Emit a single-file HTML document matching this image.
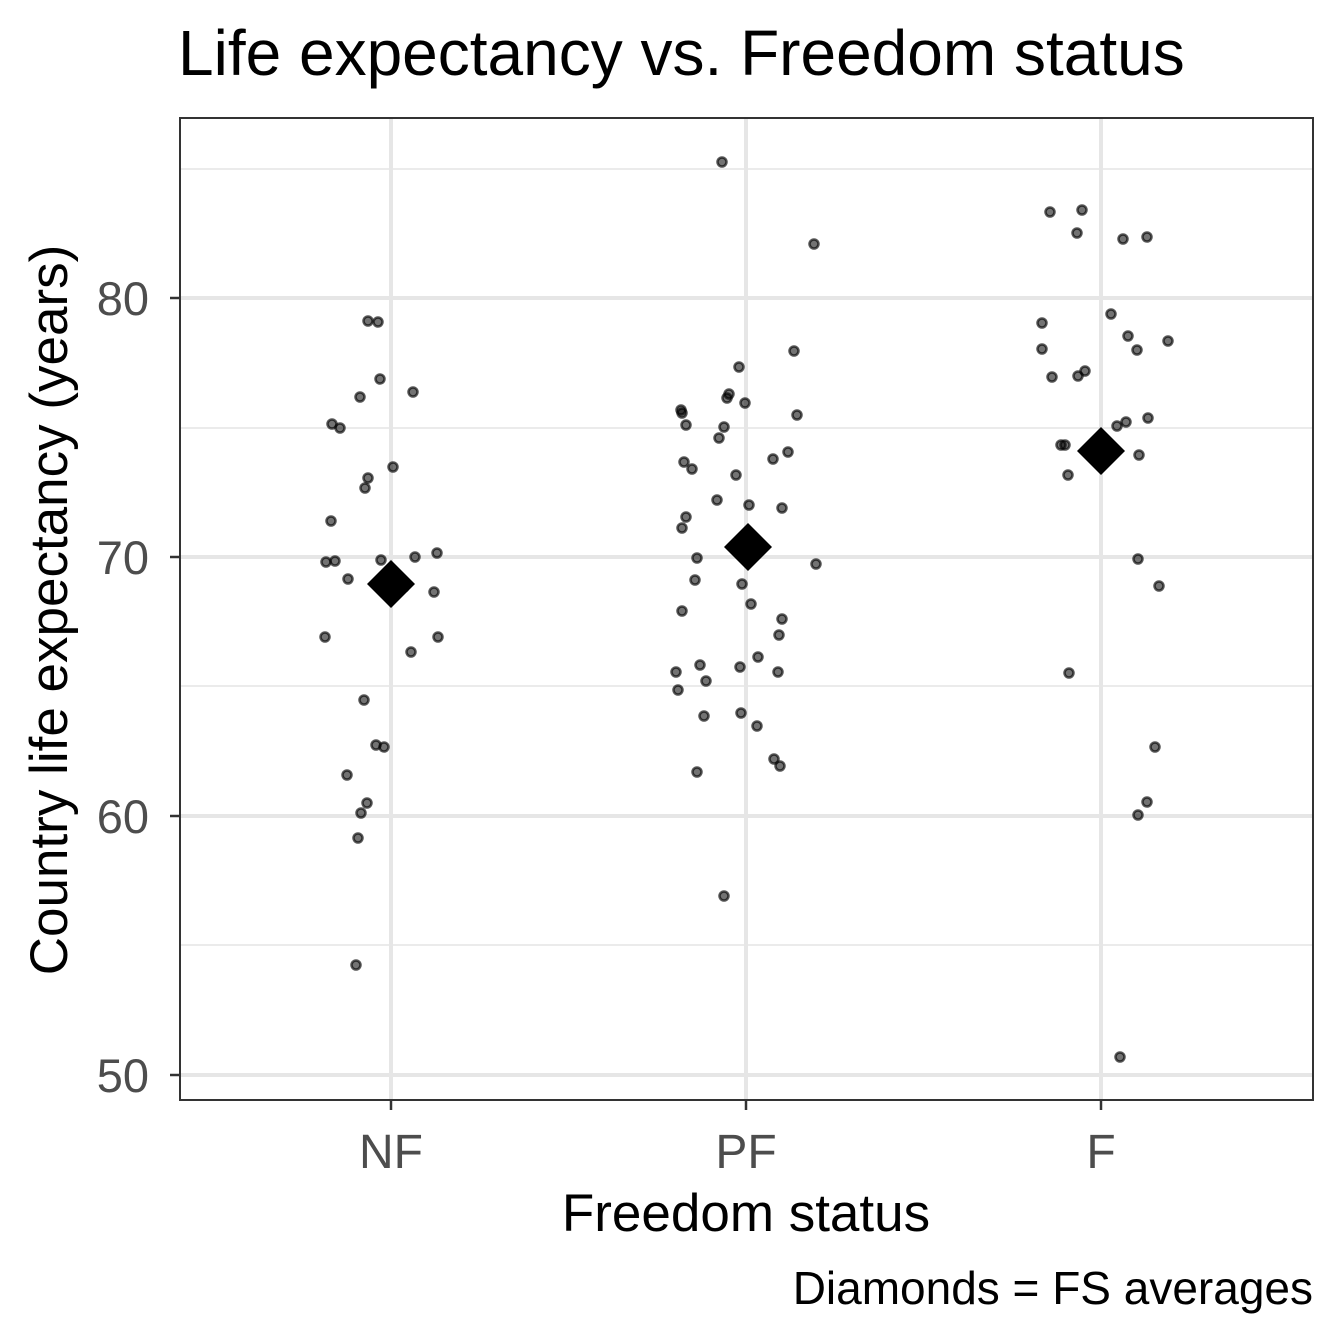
<!DOCTYPE html>
<html><head><style>body{margin:0;background:#fff}svg{display:block}</style></head><body>
<svg width="1344" height="1344" xmlns="http://www.w3.org/2000/svg" font-family="Liberation Sans, sans-serif">
<rect width="1344" height="1344" fill="#fff"/>
<g stroke="#ebebeb" stroke-width="2">
<line x1="180" x2="1313" y1="169" y2="169"/><line x1="180" x2="1313" y1="428" y2="428"/>
<line x1="180" x2="1313" y1="686" y2="686"/><line x1="180" x2="1313" y1="945" y2="945"/>
</g>
<g stroke="#e6e6e6" stroke-width="4">
<line x1="180" x2="1313" y1="298" y2="298"/><line x1="180" x2="1313" y1="557" y2="557"/>
<line x1="180" x2="1313" y1="816" y2="816"/><line x1="180" x2="1313" y1="1075" y2="1075"/>
<line y1="118" y2="1100" x1="391" x2="391"/><line y1="118" y2="1100" x1="746" x2="746"/><line y1="118" y2="1100" x1="1101" x2="1101"/>
</g>
<g fill="#000" fill-opacity="0.55" stroke="#000" stroke-opacity="0.65" stroke-width="2.5">
<circle cx="368" cy="321" r="4.5"/><circle cx="378" cy="322" r="4.5"/><circle cx="380" cy="379" r="4.5"/><circle cx="360" cy="397" r="4.5"/><circle cx="413" cy="392" r="4.5"/><circle cx="332" cy="424" r="4.5"/><circle cx="340" cy="428" r="4.5"/><circle cx="368" cy="478" r="4.5"/><circle cx="365" cy="488" r="4.5"/><circle cx="393" cy="467" r="4.5"/><circle cx="331" cy="521" r="4.5"/><circle cx="326" cy="562" r="4.5"/><circle cx="335" cy="561" r="4.5"/><circle cx="348" cy="579" r="4.5"/><circle cx="381" cy="560" r="4.5"/><circle cx="415" cy="557" r="4.5"/><circle cx="437" cy="553" r="4.5"/><circle cx="404" cy="587" r="4.5"/><circle cx="434" cy="592" r="4.5"/><circle cx="325" cy="637" r="4.5"/><circle cx="438" cy="637" r="4.5"/><circle cx="411" cy="652" r="4.5"/><circle cx="364" cy="700" r="4.5"/><circle cx="376" cy="745" r="4.5"/><circle cx="384" cy="747" r="4.5"/><circle cx="347" cy="775" r="4.5"/><circle cx="367" cy="803" r="4.5"/><circle cx="361" cy="813" r="4.5"/><circle cx="358" cy="838" r="4.5"/><circle cx="356" cy="965" r="4.5"/>
<circle cx="722" cy="162" r="4.5"/><circle cx="814" cy="244" r="4.5"/><circle cx="739" cy="367" r="4.5"/><circle cx="794" cy="351" r="4.5"/><circle cx="729" cy="394" r="4.5"/><circle cx="727" cy="398" r="4.5"/><circle cx="745" cy="403" r="4.5"/><circle cx="681" cy="410" r="4.5"/><circle cx="682" cy="413" r="4.5"/><circle cx="686" cy="425" r="4.5"/><circle cx="724" cy="427" r="4.5"/><circle cx="719" cy="438" r="4.5"/><circle cx="797" cy="415" r="4.5"/><circle cx="788" cy="452" r="4.5"/><circle cx="773" cy="459" r="4.5"/><circle cx="684" cy="462" r="4.5"/><circle cx="692" cy="469" r="4.5"/><circle cx="736" cy="475" r="4.5"/><circle cx="717" cy="500" r="4.5"/><circle cx="749" cy="505" r="4.5"/><circle cx="782" cy="508" r="4.5"/><circle cx="686" cy="517" r="4.5"/><circle cx="682" cy="528" r="4.5"/><circle cx="697" cy="558" r="4.5"/><circle cx="816" cy="564" r="4.5"/><circle cx="695" cy="580" r="4.5"/><circle cx="742" cy="584" r="4.5"/><circle cx="751" cy="604" r="4.5"/><circle cx="782" cy="619" r="4.5"/><circle cx="779" cy="635" r="4.5"/><circle cx="758" cy="657" r="4.5"/><circle cx="676" cy="672" r="4.5"/><circle cx="700" cy="665" r="4.5"/><circle cx="740" cy="667" r="4.5"/><circle cx="778" cy="672" r="4.5"/><circle cx="706" cy="681" r="4.5"/><circle cx="678" cy="690" r="4.5"/><circle cx="741" cy="713" r="4.5"/><circle cx="704" cy="716" r="4.5"/><circle cx="757" cy="726" r="4.5"/><circle cx="774" cy="759" r="4.5"/><circle cx="780" cy="766" r="4.5"/><circle cx="697" cy="772" r="4.5"/><circle cx="724" cy="896" r="4.5"/><circle cx="682" cy="611" r="4.5"/>
<circle cx="1050" cy="212" r="4.5"/><circle cx="1082" cy="210" r="4.5"/><circle cx="1077" cy="233" r="4.5"/><circle cx="1123" cy="239" r="4.5"/><circle cx="1147" cy="237" r="4.5"/><circle cx="1042" cy="323" r="4.5"/><circle cx="1111" cy="314" r="4.5"/><circle cx="1128" cy="336" r="4.5"/><circle cx="1042" cy="349" r="4.5"/><circle cx="1168" cy="341" r="4.5"/><circle cx="1137" cy="350" r="4.5"/><circle cx="1052" cy="377" r="4.5"/><circle cx="1085" cy="371" r="4.5"/><circle cx="1078" cy="376" r="4.5"/><circle cx="1061" cy="445" r="4.5"/><circle cx="1065" cy="445" r="4.5"/><circle cx="1117" cy="426" r="4.5"/><circle cx="1126" cy="422" r="4.5"/><circle cx="1148" cy="418" r="4.5"/><circle cx="1068" cy="475" r="4.5"/><circle cx="1139" cy="455" r="4.5"/><circle cx="1138" cy="559" r="4.5"/><circle cx="1159" cy="586" r="4.5"/><circle cx="1069" cy="673" r="4.5"/><circle cx="1155" cy="747" r="4.5"/><circle cx="1147" cy="802" r="4.5"/><circle cx="1138" cy="815" r="4.5"/><circle cx="1120" cy="1057" r="4.5"/>
</g>
<g fill="#000">
<polygon points="391,560 415,584 391,608 367,584"/>
<polygon points="748,523 772,547 748,571 724,547"/>
<polygon points="1101,427 1125,451 1101,475 1077,451"/>
</g>
<rect x="180" y="118" width="1133" height="982" fill="none" stroke="#333" stroke-width="2"/>
<g stroke="#333" stroke-width="2.5">
<line x1="170" x2="180" y1="298" y2="298"/><line x1="170" x2="180" y1="557" y2="557"/><line x1="170" x2="180" y1="816" y2="816"/><line x1="170" x2="180" y1="1075" y2="1075"/>
<line y1="1100" y2="1110" x1="391" x2="391"/><line y1="1100" y2="1110" x1="746" x2="746"/><line y1="1100" y2="1110" x1="1101" x2="1101"/>
</g>
<g fill="#4d4d4d" font-size="47" text-anchor="end">
<text x="149" y="315">80</text><text x="149" y="574">70</text><text x="149" y="833">60</text><text x="149" y="1092">50</text>
</g>
<g fill="#4d4d4d" font-size="48" text-anchor="middle">
<text x="391" y="1168">NF</text><text x="746" y="1168">PF</text><text x="1101" y="1168">F</text>
</g>
<text x="746" y="1231" font-size="53" text-anchor="middle">Freedom status</text>
<text transform="translate(67,610) rotate(-90)" font-size="53" text-anchor="middle">Country life expectancy (years)</text>
<text x="178" y="75" font-size="64">Life expectancy vs. Freedom status</text>
<text x="1313" y="1304" font-size="46" text-anchor="end">Diamonds = FS averages</text>
</svg>
</body></html>
